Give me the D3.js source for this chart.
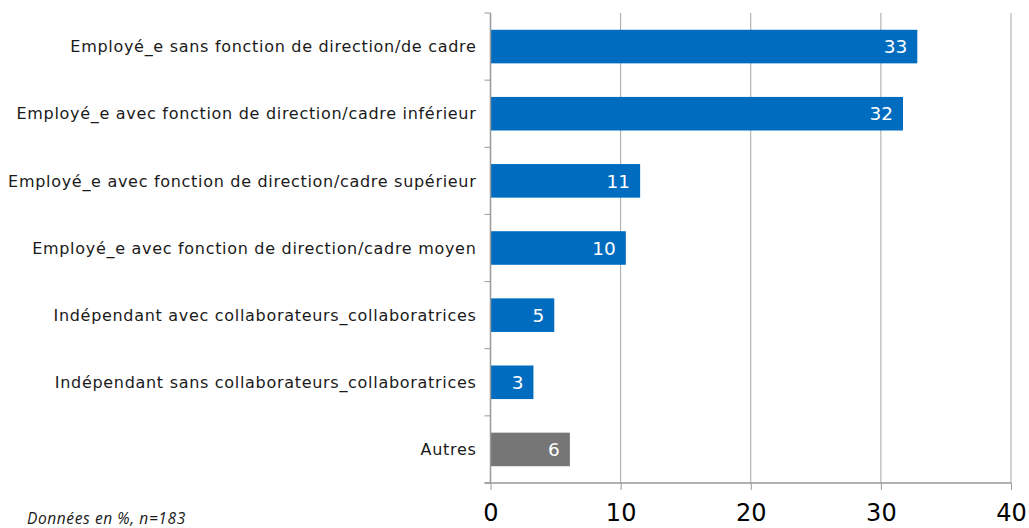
<!DOCTYPE html>
<html>
<head>
<meta charset="utf-8">
<script src="https://cdn.jsdelivr.net/npm/d3@7"></script>
<style>
  body { margin: 0; background: #fff; }
  svg { display: block; }
</style>
</head>
<body>
<div id="chart"></div>
<script>
// categories, top to bottom
var categories = [
  "Employé_e sans fonction de direction/de cadre",
  "Employé_e avec fonction de direction/cadre inférieur",
  "Employé_e avec fonction de direction/cadre supérieur",
  "Employé_e avec fonction de direction/cadre moyen",
  "Indépendant avec collaborateurs_collaboratrices",
  "Indépendant sans collaborateurs_collaboratrices",
  "Autres"
];
// values in %
var values = [32.8, 31.7, 11.5, 10.4, 4.9, 3.3, 6.1];
var valueLabels = ["33", "32", "11", "10", "5", "3", "6"];
var isOther = [false, false, false, false, false, false, true];
var xTicks = [0, 10, 20, 30, 40];
var note = "Données en %, n=183";

var W = 1029, H = 528;
var margin = {top: 13, right: 18, bottom: 45, left: 490.5};

var svg = d3.select("#chart").append("svg")
  .attr("width", W)
  .attr("height", H);

var x = d3.scaleLinear().domain([0, 40]).range([margin.left, W - margin.right]);
var y = d3.scaleBand().domain(categories).range([margin.top, H - margin.bottom]).paddingInner(0.5).paddingOuter(0.25);

// gridlines
svg.append("g")
  .selectAll("line")
  .data(xTicks.slice(1))
  .enter().append("line")
  .attr("x1", function(d) { return x(d); })
  .attr("x2", function(d) { return x(d); })
  .attr("y1", margin.top)
  .attr("y2", H - margin.bottom)
  .attr("stroke", "#a6a6a6")
  .attr("stroke-width", 1);

// bars
svg.append("g")
  .selectAll("rect")
  .data(categories)
  .enter().append("rect")
  .attr("x", x(0))
  .attr("y", function(d) { return y(d); })
  .attr("width", function(d, i) { return x(values[i]) - x(0); })
  .attr("height", y.bandwidth())
  .attr("fill", function(d, i) { return isOther[i] ? "#767676" : "#006cbf"; });

// value labels inside bars
svg.append("g")
  .selectAll("text")
  .data(categories)
  .enter().append("text")
  .attr("x", function(d, i) { return x(values[i]) - 10; })
  .attr("y", function(d) { return y(d) + y.bandwidth() / 2; })
  .attr("dy", "0.36em")
  .attr("text-anchor", "end")
  .attr("fill", "#fff")
  .style("font-family", "DejaVu Sans, Verdana, sans-serif")
  .style("font-size", "18.5px")
  .text(function(d, i) { return valueLabels[i]; });

// y axis
var yAxis = svg.append("g")
  .attr("transform", "translate(" + margin.left + ",0)");
yAxis.append("line")
  .attr("x1", 0).attr("x2", 0)
  .attr("y1", margin.top).attr("y2", H - margin.bottom)
  .attr("stroke", "#999").attr("stroke-width", 1.5);
var bandEdges = categories.map(function(d) { return y(d) - y.step() * y.paddingInner() / 2; });
bandEdges.push(H - margin.bottom);
yAxis.selectAll(".tk")
  .data(bandEdges)
  .enter().append("line")
  .attr("class", "tk")
  .attr("x1", -6).attr("x2", 0)
  .attr("y1", function(d) { return d; })
  .attr("y2", function(d) { return d; })
  .attr("stroke", "#999").attr("stroke-width", 1);

// category labels
svg.append("g")
  .selectAll("text")
  .data(categories)
  .enter().append("text")
  .attr("x", margin.left - 14)
  .attr("y", function(d) { return y(d) + y.bandwidth() / 2; })
  .attr("dy", "0.36em")
  .attr("text-anchor", "end")
  .attr("fill", "#1a1a1a")
  .style("font-family", "DejaVu Sans, Verdana, sans-serif")
  .style("font-size", "16px")
  .style("letter-spacing", "0.7px")
  .text(function(d) { return d; });

// x axis
var xAxis = svg.append("g")
  .attr("transform", "translate(0," + (H - margin.bottom) + ")")
  .call(d3.axisBottom(x).tickValues(xTicks).tickSize(7).tickPadding(14).tickSizeOuter(0));
xAxis.select(".domain").attr("stroke", "#999").attr("stroke-width", 1.5)
  .attr("d", "M" + (margin.left - 6) + ",0H" + x(40));
xAxis.selectAll(".tick line").attr("stroke", "#999");
xAxis.selectAll(".tick text")
  .attr("fill", "#000")
  .style("font-family", "DejaVu Sans, Verdana, sans-serif")
  .style("font-size", "24px");

// note
svg.append("text")
  .attr("x", 27)
  .attr("y", 524)
  .attr("fill", "#1a1a1a")
  .style("font-family", "Open Sans, sans-serif")
  .style("font-style", "italic")
  .style("font-size", "15.5px")
  .style("letter-spacing", "0.6px")
  .text(note);
</script>
</body>
</html>
